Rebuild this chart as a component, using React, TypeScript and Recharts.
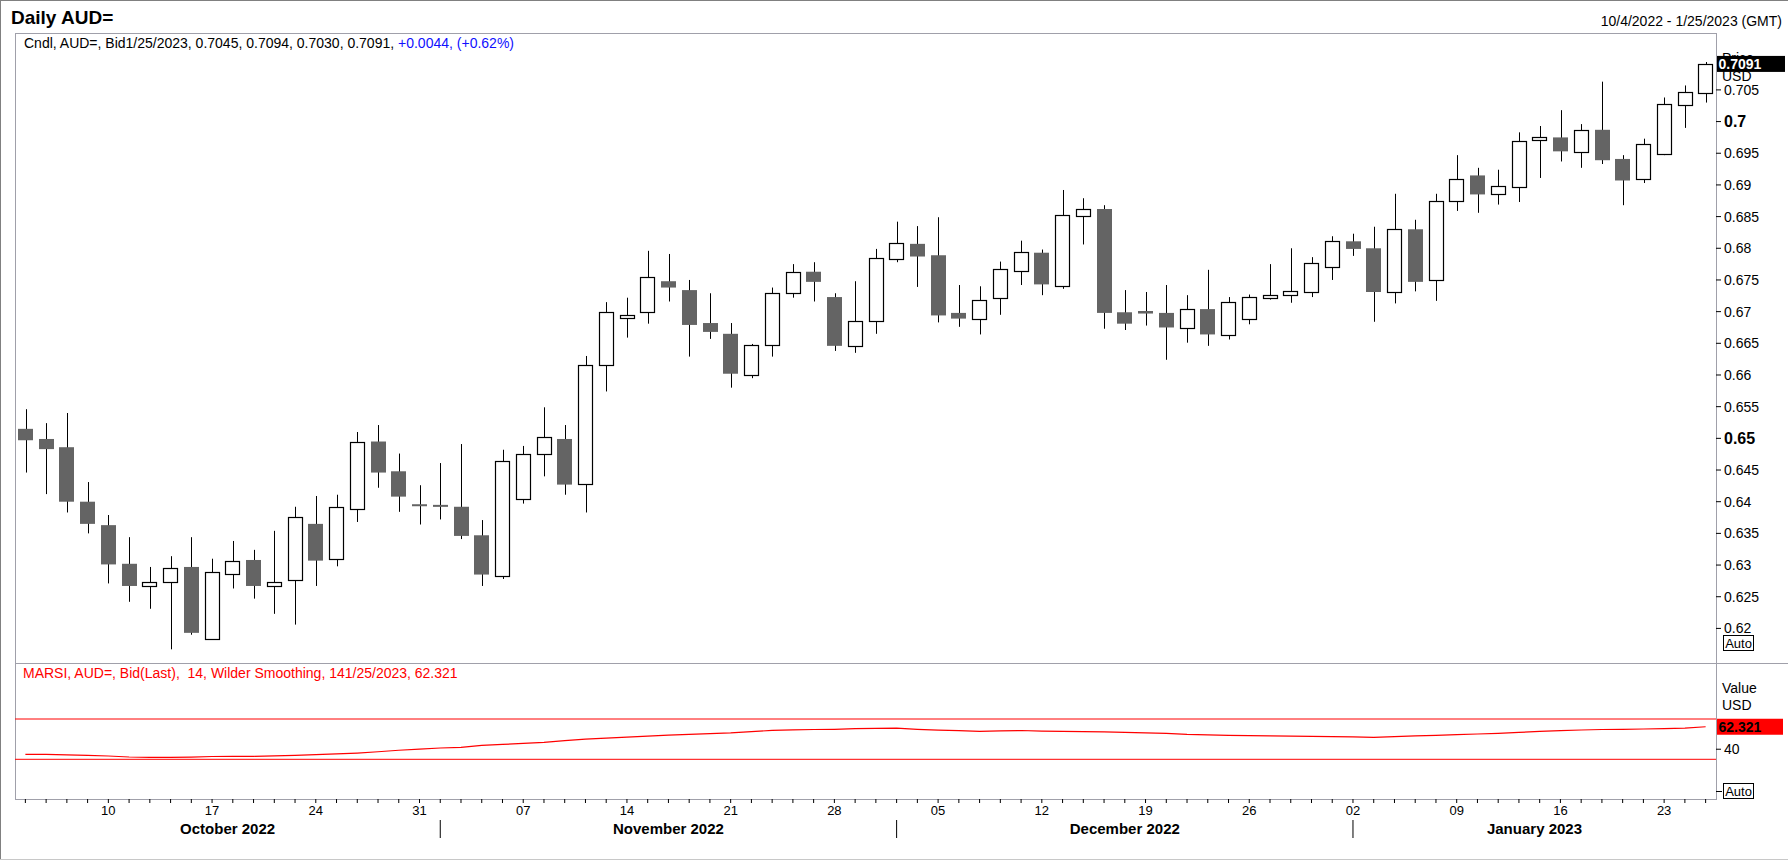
import { ComposedChart, Bar, Line, XAxis, YAxis, ReferenceLine } from 'recharts'

const W = 1788
const H = 862
const PLOT_L = 15
const PLOT_R = 1716
const PLOT_T = 33
const SPLIT = 663
const PLOT_B = 799
const AXIS_W = W - PLOT_R
const FONT = '"Liberation Sans", Arial, Helvetica, sans-serif'
const FRAME = '#a0a0aa'
const RED = '#ff0000'

// trading days, 10/4/2022 - 1/25/2023
const dates = [
  '2022-10-04', '2022-10-05', '2022-10-06', '2022-10-07', '2022-10-10', '2022-10-11', '2022-10-12',
  '2022-10-13', '2022-10-14', '2022-10-17', '2022-10-18', '2022-10-19', '2022-10-20', '2022-10-21',
  '2022-10-24', '2022-10-25', '2022-10-26', '2022-10-27', '2022-10-28', '2022-10-31',
  '2022-11-01', '2022-11-02', '2022-11-03', '2022-11-04', '2022-11-07', '2022-11-08', '2022-11-09',
  '2022-11-10', '2022-11-11', '2022-11-14', '2022-11-15', '2022-11-16', '2022-11-17', '2022-11-18',
  '2022-11-21', '2022-11-22', '2022-11-23', '2022-11-24', '2022-11-25', '2022-11-28', '2022-11-29',
  '2022-11-30',
  '2022-12-01', '2022-12-02', '2022-12-05', '2022-12-06', '2022-12-07', '2022-12-08', '2022-12-09',
  '2022-12-12', '2022-12-13', '2022-12-14', '2022-12-15', '2022-12-16', '2022-12-19', '2022-12-20',
  '2022-12-21', '2022-12-22', '2022-12-23', '2022-12-26', '2022-12-27', '2022-12-28', '2022-12-29',
  '2022-12-30',
  '2023-01-02', '2023-01-03', '2023-01-04', '2023-01-05', '2023-01-06', '2023-01-09', '2023-01-10',
  '2023-01-11', '2023-01-12', '2023-01-13', '2023-01-16', '2023-01-17', '2023-01-18', '2023-01-19',
  '2023-01-20', '2023-01-23', '2023-01-24', '2023-01-25',
]

const open = [
  0.6515, 0.6499, 0.6486, 0.6400, 0.6363, 0.6302, 0.6268, 0.6274, 0.6297, 0.6184, 0.6287, 0.6308, 0.6266, 0.6276,
  0.6365, 0.6309, 0.6390, 0.6495, 0.6448, 0.6396, 0.6395, 0.6392, 0.6347, 0.6283, 0.6405, 0.6475, 0.6499, 0.6427,
  0.6617, 0.6689, 0.6699, 0.6748, 0.6734, 0.6682, 0.6665, 0.6600, 0.6647, 0.6729, 0.6763, 0.6723, 0.6645, 0.6685,
  0.6783, 0.6807, 0.6789, 0.6698, 0.6689, 0.6721, 0.6764, 0.6793, 0.6740, 0.6851, 0.6862, 0.6699, 0.6701, 0.6698,
  0.6674, 0.6704, 0.6663, 0.6689, 0.6723, 0.6727, 0.6731, 0.6770, 0.6811, 0.6800, 0.6730, 0.6830, 0.6749, 0.6874,
  0.6915, 0.6885, 0.6898, 0.6970, 0.6975, 0.6952, 0.6987, 0.6941, 0.6909, 0.6948, 0.7027, 0.7045,
]
const high = [
  0.6546, 0.6524, 0.6540, 0.6431, 0.6379, 0.6344, 0.6297, 0.6314, 0.6344, 0.6310, 0.6338, 0.6324, 0.6354, 0.6392,
  0.6409, 0.6411, 0.6510, 0.6521, 0.6476, 0.6426, 0.6461, 0.6491, 0.6371, 0.6482, 0.6488, 0.6549, 0.6521, 0.6630,
  0.6715, 0.6722, 0.6796, 0.6791, 0.6750, 0.6729, 0.6682, 0.6649, 0.6738, 0.6775, 0.6778, 0.6729, 0.6748, 0.6799,
  0.6842, 0.6835, 0.6849, 0.6742, 0.6740, 0.6779, 0.6812, 0.6798, 0.6892, 0.6879, 0.6868, 0.6734, 0.6731, 0.6742,
  0.6726, 0.6766, 0.6723, 0.6727, 0.6775, 0.6800, 0.6786, 0.6819, 0.6823, 0.6834, 0.6886, 0.6845, 0.6886, 0.6947,
  0.6927, 0.6924, 0.6983, 0.6993, 0.7018, 0.6996, 0.7063, 0.6947, 0.6973, 0.7038, 0.7057, 0.7094,
]
const low = [
  0.6446, 0.6412, 0.6383, 0.6350, 0.6271, 0.6242, 0.6231, 0.6167, 0.6190, 0.6183, 0.6263, 0.6247, 0.6223, 0.6206,
  0.6267, 0.6298, 0.6368, 0.6422, 0.6384, 0.6364, 0.6372, 0.6341, 0.6267, 0.6278, 0.6397, 0.6440, 0.6411, 0.6383,
  0.6574, 0.6659, 0.6681, 0.6716, 0.6629, 0.6657, 0.6580, 0.6595, 0.6629, 0.6722, 0.6716, 0.6638, 0.6635, 0.6665,
  0.6778, 0.6739, 0.6683, 0.6676, 0.6664, 0.6695, 0.6742, 0.6726, 0.6736, 0.6806, 0.6673, 0.6671, 0.6678, 0.6624,
  0.6651, 0.6646, 0.6656, 0.6680, 0.6719, 0.6714, 0.6723, 0.6750, 0.6788, 0.6684, 0.6713, 0.6732, 0.6717, 0.6859,
  0.6856, 0.6869, 0.6873, 0.6911, 0.6937, 0.6927, 0.6933, 0.6868, 0.6903, 0.6947, 0.6990, 0.7030,
]
const close = [
  0.6497, 0.6483, 0.6400, 0.6365, 0.6301, 0.6267, 0.6274, 0.6296, 0.6193, 0.6289, 0.6307, 0.6267, 0.6273, 0.6376,
  0.6307, 0.6391, 0.6495, 0.6446, 0.6408, 0.6394, 0.6392, 0.6346, 0.6285, 0.6464, 0.6476, 0.6502, 0.6427, 0.6615,
  0.6700, 0.6694, 0.6754, 0.6738, 0.6679, 0.6668, 0.6602, 0.6647, 0.6729, 0.6762, 0.6747, 0.6646, 0.6685, 0.6784,
  0.6808, 0.6787, 0.6694, 0.6689, 0.6719, 0.6767, 0.6794, 0.6743, 0.6852, 0.6862, 0.6698, 0.6681, 0.6697, 0.6675,
  0.6704, 0.6664, 0.6715, 0.6723, 0.6727, 0.6733, 0.6776, 0.6811, 0.6799, 0.6731, 0.6830, 0.6747, 0.6874, 0.6909,
  0.6885, 0.6898, 0.6970, 0.6975, 0.6953, 0.6987, 0.6939, 0.6907, 0.6964, 0.7027, 0.7047, 0.7091,
]

// MARSI 14, Wilder smoothing
const rsi = [
  34.9, 34.9, 34.4, 34.0, 33.3, 32.3, 32.0, 32.0, 32.2, 32.8, 33.0, 33.0, 33.4, 34.0,
  34.6, 35.3, 36.2, 37.5, 39.0, 40.2, 41.2, 41.8, 43.8, 44.8, 45.8, 46.8, 48.6, 50.1,
  51.1, 52.1, 53.1, 54.1, 54.7, 55.4, 56.2, 57.5, 58.7, 59.2, 59.6, 59.8, 60.4, 60.8,
  61.0, 59.8, 58.9, 58.4, 57.8, 58.2, 58.6, 58.0, 57.7, 57.5, 57.2, 56.7, 56.2, 55.7,
  54.7, 54.2, 53.8, 53.6, 53.3, 53.1, 52.8, 52.6, 52.3, 51.8, 52.6, 53.2, 53.7, 54.5,
  55.1, 55.7, 56.7, 57.7, 58.5, 59.1, 59.6, 59.8, 60.1, 60.5, 61.0, 62.321,
]

const priceTicks = [
  0.62, 0.625, 0.63, 0.635, 0.64, 0.645, 0.65, 0.655, 0.66, 0.665, 0.67, 0.675, 0.68, 0.685, 0.69, 0.695, 0.7, 0.705,
]
const boldTicks = [0.65, 0.7]
const rsiTicks = [40]
const rsiLevels = [70, 30]
const dayTicks = [
  '2022-10-10', '2022-10-17', '2022-10-24', '2022-10-31', '2022-11-07', '2022-11-14', '2022-11-21', '2022-11-28',
  '2022-12-05', '2022-12-12', '2022-12-19', '2022-12-26', '2023-01-02', '2023-01-09', '2023-01-16', '2023-01-23',
]
const monthStarts = ['2022-10-04', '2022-11-01', '2022-12-01', '2023-01-02']
const monthLabels = ['October 2022', 'November 2022', 'December 2022', 'January 2023']

const data = dates.map((date, i) => ({
  date,
  open: open[i],
  high: high[i],
  low: low[i],
  close: close[i],
  rsi: rsi[i],
}))

const BAND = (PLOT_R - PLOT_L) / dates.length

function Candle(props: any) {
  const { x, y, width, height } = props
  const d = props.payload ?? props
  const top = Math.min(y, y + height)
  const h = Math.abs(height)
  if (!(h > 0)) return null
  const k = h / (d.high - d.low)
  const yOf = (v: number) => top + (d.high - v) * k
  const cx = Math.round(x + width / 2) + 0.5
  const yo = yOf(d.open)
  const yc = yOf(d.close)
  const up = d.close >= d.open
  const bTop = Math.min(yo, yc)
  const bH = Math.abs(yo - yc)
  const left = Math.round(x)
  const w = Math.round(width)
  return (
    <g>
      <line x1={cx} x2={cx} y1={top} y2={top + h} stroke="#000" strokeWidth={1} />
      {up ? (
        <rect
          x={left + 0.5}
          y={Math.round(bTop) + 0.5}
          width={w - 1}
          height={Math.max(Math.round(bH), 2)}
          fill="#fff"
          stroke="#000"
          strokeWidth={1.2}
        />
      ) : (
        <rect x={left} y={bTop} width={w} height={Math.max(bH, 2)} fill="#646464" />
      )}
    </g>
  )
}

function PriceTick(props: any) {
  const { x, y, payload } = props
  const v = payload.value as number
  const bold = boldTicks.some((b) => Math.abs(b - v) < 1e-9)
  return (
    <text
      x={x}
      y={y}
      dy={bold ? 5.5 : 5}
      fontFamily={FONT}
      fontSize={bold ? 16 : 14}
      fontWeight={bold ? 'bold' : 'normal'}
      fill="#000"
      textAnchor="start"
    >
      {String(Number(v.toFixed(3)))}
    </text>
  )
}

function RsiTick(props: any) {
  const { x, y, payload } = props
  return (
    <text x={x} y={y} dy={5} fontFamily={FONT} fontSize={14} fill="#000" textAnchor="start">
      {payload.value}
    </text>
  )
}

function DateTick(props: any) {
  const { x, y, payload } = props
  const date = payload.value as string
  const day = dayTicks.includes(date) ? date.slice(8) : null
  const m = monthStarts.indexOf(date)
  let month = null
  if (m >= 0) {
    const s = dates.indexOf(date)
    const n = m + 1 < monthStarts.length ? dates.indexOf(monthStarts[m + 1]) : dates.length
    const left = m === 0 ? x - BAND / 2 : x
    const right = m + 1 < monthStarts.length ? x + (n - s) * BAND : x + (n - s - 0.5) * BAND
    month = (
      <g>
        {m > 0 && <line x1={x} x2={x} y1={y + 17} y2={y + 35} stroke="#000" strokeWidth={1} />}
        <text
          x={(left + right) / 2}
          y={y + 31}
          textAnchor="middle"
          fontFamily={FONT}
          fontSize={15}
          fontWeight="bold"
          fill="#000"
        >
          {monthLabels[m]}
        </text>
      </g>
    )
  }
  return (
    <g>
      {day && (
        <text x={x} y={y + 12} textAnchor="middle" fontFamily={FONT} fontSize={13} fill="#000">
          {day}
        </text>
      )}
      {month}
    </g>
  )
}

function LastBox(props: any) {
  const vb = props.viewBox || {}
  const x0 = (vb.x ?? PLOT_L) + (vb.width ?? PLOT_R - PLOT_L) + 1
  const yc = vb.y ?? 0
  return (
    <g>
      <rect x={x0} y={yc - 8} width={props.w} height={16} fill={props.bg} />
      <text x={x0 + 1.5} y={yc + 5} fontFamily={FONT} fontSize={14} fontWeight="bold" fill={props.fg}>
        {props.text}
      </text>
    </g>
  )
}

function AutoBox({ y }: { y: number }) {
  return (
    <g>
      <rect x={1723.5} y={y + 0.5} width={30} height={15} fill="#fff" stroke="#000" strokeWidth={1} />
      <text x={1738.5} y={y + 12.5} textAnchor="middle" fontFamily={FONT} fontSize={13} fill="#000">
        Auto
      </text>
    </g>
  )
}

export default function App() {
  const last = dates.length - 1
  return (
    <div
      style={{
        position: 'absolute',
        left: 0,
        top: 0,
        width: W,
        height: H,
        background: '#fff',
        overflow: 'hidden',
        fontFamily: FONT,
      }}
    >
      <svg width={W} height={H} style={{ position: 'absolute', left: 0, top: 0 }}>
        <line x1={0} x2={W} y1={0.5} y2={0.5} stroke="#808080" />
        <line x1={0.5} x2={0.5} y1={0} y2={860} stroke="#808080" />
        <line x1={0} x2={W} y1={859.5} y2={859.5} stroke="#c8c8c8" />
        <rect
          x={PLOT_L + 0.5}
          y={PLOT_T + 0.5}
          width={PLOT_R - PLOT_L}
          height={PLOT_B - PLOT_T}
          fill="none"
          stroke={FRAME}
        />
        <line x1={PLOT_L} x2={W} y1={SPLIT + 0.5} y2={SPLIT + 0.5} stroke={FRAME} />
        <text x={11} y={24} fontFamily={FONT} fontSize={19} fontWeight="bold" fill="#000">
          Daily AUD=
        </text>
        <text x={1782} y={26} textAnchor="end" fontFamily={FONT} fontSize={14} fill="#000">
          10/4/2022 - 1/25/2023 (GMT)
        </text>
        <text x={24} y={48} fontFamily={FONT} fontSize={14} fill="#000">
          Cndl, AUD=, Bid1/25/2023, 0.7045, 0.7094, 0.7030, 0.7091,{' '}
          <tspan fill="#1010ff">+0.0044, (+0.62%)</tspan>
        </text>
        <text x={23} y={678} fontFamily={FONT} fontSize={14} fill={RED} style={{ whiteSpace: 'pre' }}>
          {'MARSI, AUD=, Bid(Last),  14, Wilder Smoothing, 141/25/2023, 62.321'}
        </text>
        <text x={1722} y={63} fontFamily={FONT} fontSize={14} fill="#000">
          Price
        </text>
        <text x={1722} y={81} fontFamily={FONT} fontSize={14} fill="#000">
          USD
        </text>
        <text x={1722} y={693} fontFamily={FONT} fontSize={14} fill="#000">
          Value
        </text>
        <text x={1722} y={710} fontFamily={FONT} fontSize={14} fill="#000">
          USD
        </text>
        <AutoBox y={635} />
        <line x1={PLOT_R} x2={1722} y1={791.5} y2={791.5} stroke="#000" />
        <AutoBox y={783} />
      </svg>

      <div style={{ position: 'absolute', left: 0, top: 0 }}>
        <ComposedChart
          width={W}
          height={SPLIT}
          data={data}
          margin={{ top: PLOT_T, right: 0, bottom: 0, left: PLOT_L }}
        >
          <XAxis dataKey="date" hide scale="band" />
          <YAxis
            orientation="right"
            type="number"
            width={AXIS_W}
            domain={[0.61454, 0.71398]}
            allowDataOverflow
            ticks={priceTicks}
            interval={0}
            axisLine={false}
            tickLine={{ stroke: '#000' }}
            tickSize={5}
            tickMargin={3}
            tick={<PriceTick />}
          />
          <Bar
            dataKey={(d: any) => [d.low, d.high]}
            barSize={15}
            shape={(p: any) => <Candle {...p} />}
            isAnimationActive={false}
          />
          <ReferenceLine
            y={close[last]}
            stroke="none"
            label={<LastBox w={68} bg="#000" fg="#fff" text={close[last].toFixed(4)} />}
          />
        </ComposedChart>
      </div>

      <div style={{ position: 'absolute', left: 0, top: SPLIT }}>
        <ComposedChart
          width={W}
          height={H - SPLIT}
          data={data}
          margin={{ top: 0, right: 0, bottom: 0, left: PLOT_L }}
        >
          <XAxis
            dataKey="date"
            scale="band"
            height={H - PLOT_B}
            interval={0}
            axisLine={false}
            tickLine={{ stroke: '#000' }}
            tickSize={4}
            tickMargin={0}
            tick={<DateTick />}
          />
          <YAxis
            orientation="right"
            type="number"
            width={AXIS_W}
            domain={[-9.4, 125.6]}
            allowDataOverflow
            ticks={rsiTicks}
            interval={0}
            axisLine={false}
            tickLine={{ stroke: '#000' }}
            tickSize={5}
            tickMargin={3}
            tick={<RsiTick />}
          />
          {rsiLevels.map((lv) => (
            <ReferenceLine key={lv} y={lv} stroke={RED} strokeWidth={1} />
          ))}
          <Line
            type="linear"
            dataKey="rsi"
            stroke={RED}
            strokeWidth={1.2}
            dot={false}
            isAnimationActive={false}
          />
          <ReferenceLine
            y={rsi[last]}
            stroke="none"
            label={<LastBox w={66} bg={RED} fg="#000" text={rsi[last].toFixed(3)} />}
          />
        </ComposedChart>
      </div>
    </div>
  )
}
